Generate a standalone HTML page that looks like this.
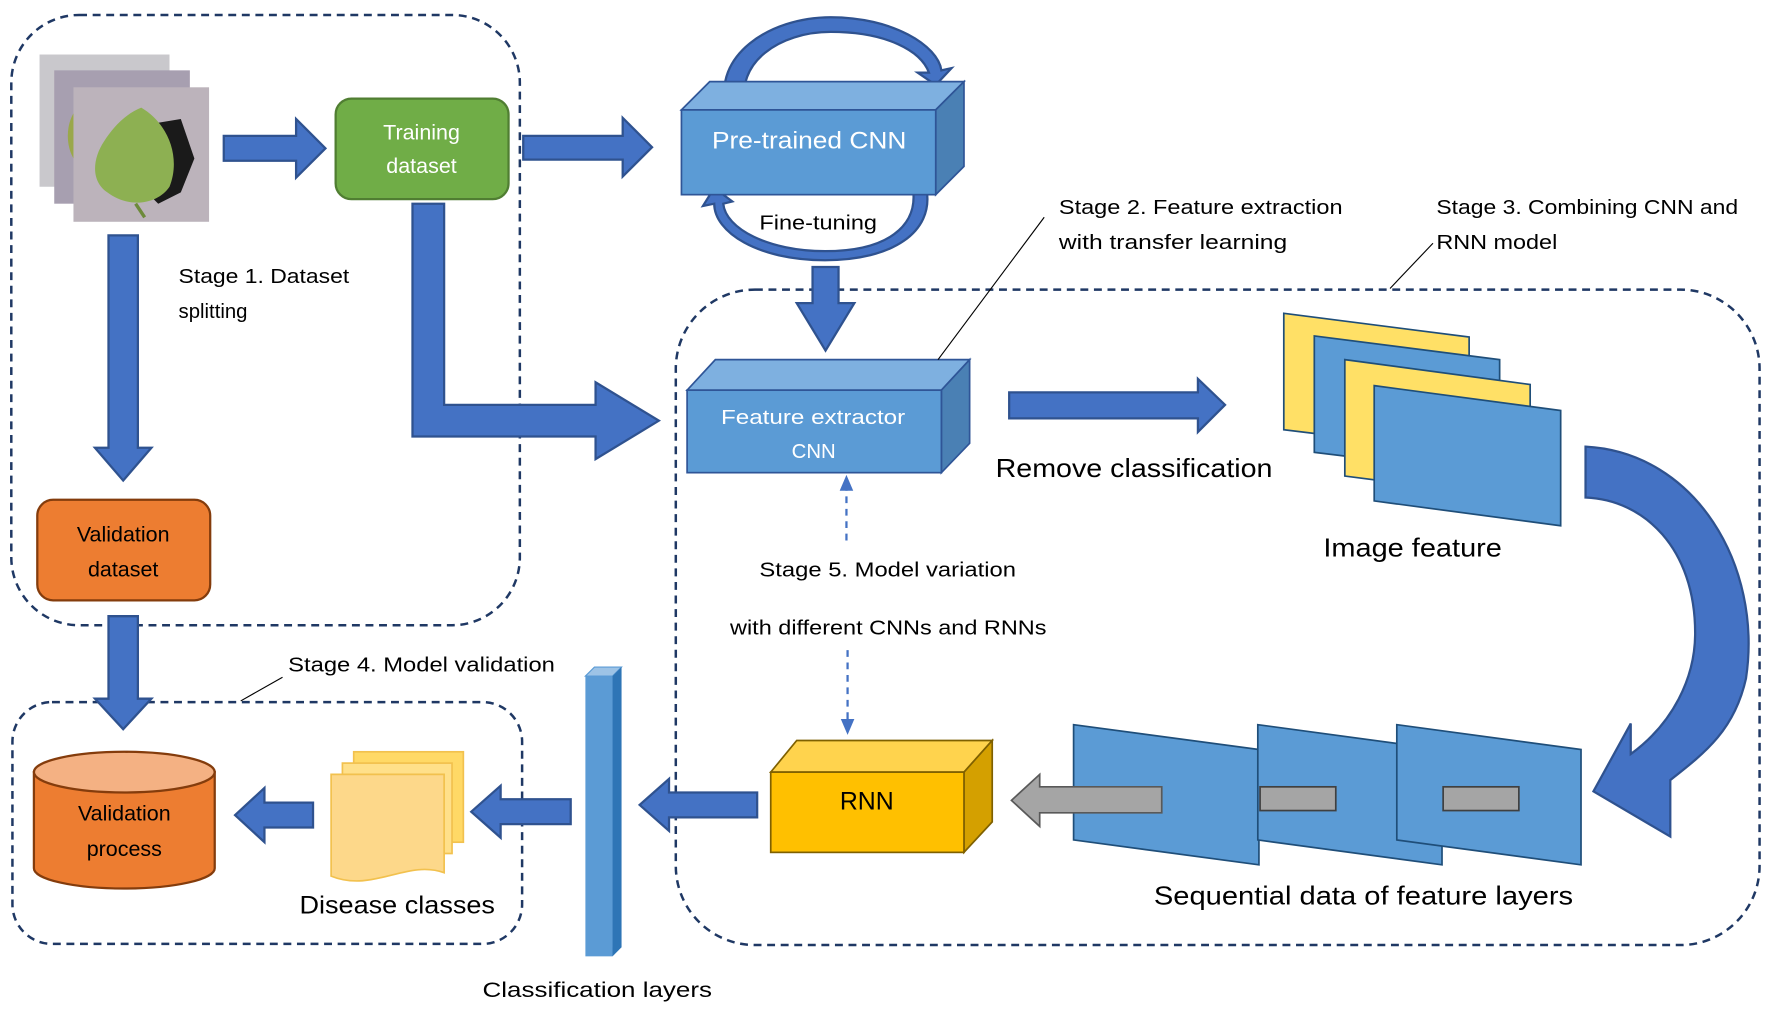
<!DOCTYPE html>
<html><head><meta charset="utf-8"><style>
html,body{margin:0;padding:0;background:#fff;}
svg{display:block;}
text{font-family:"Liberation Sans",sans-serif;}
</style></head><body>
<svg width="1772" height="1012" viewBox="0 0 1568 895" xmlns="http://www.w3.org/2000/svg">
<g fill="none" stroke="#1f3864" stroke-width="2.2" stroke-dasharray="7,5">
<rect x="10" y="13" width="450" height="540" rx="60"/>
<rect x="11" y="621" width="451" height="214" rx="35"/>
<rect x="598" y="256" width="959" height="580" rx="70"/>
</g>
<!-- leaf photos -->
<rect x="35" y="48" width="115" height="117" fill="#c9c8cc"/>
<rect x="48" y="62" width="120" height="118" fill="#a79fb0"/>
<ellipse cx="80" cy="120" rx="20" ry="30" fill="#9aa84a"/>
<rect x="65" y="77" width="120" height="119" fill="#bcb3bb"/>
<path d="M130,110 L160,105 L172,140 L160,170 L140,180 L125,165 Z" fill="#1a1a1a"/>
<path d="M125,95 C150,110 160,140 150,165 C140,180 115,185 95,170 C80,160 82,140 92,125 C100,112 112,100 125,95 Z" fill="#8db052"/>
<path d="M120,180 L128,192" stroke="#6d8a3a" stroke-width="3"/>
<g fill="#4472c4" stroke="#2f528f" stroke-width="2" stroke-linejoin="miter">
<path d="M198,120 L262,120 L262,105 L288,131 L262,157 L262,142 L198,142 Z"/>
<path d="M463,120 L551,120 L551,104 L577,130 L551,156 L551,141 L463,141 Z"/>
<path d="M719,236 L742,236 L742,268 L756,268 L730.5,310 L705,268 L719,268 Z"/>
<path d="M365,180 L393,180 L393,358 L527,358 L527,338 L583,372 L527,406 L527,386 L365,386 Z"/>
<path d="M96,208 L122,208 L122,396 L134,396 L109,425 L84,396 L96,396 Z"/>
<path d="M96,545 L122,545 L122,618 L134,618 L109,645 L84,618 L96,618 Z"/>
<path d="M893,347 L1060,347 L1060,335 L1084,358 L1060,382 L1060,370 L893,370 Z"/>
<path d="M277,710 L234,710 L234,697 L208,721 L234,745 L234,732 L277,732 Z"/>
<path d="M505,707 L443,707 L443,695 L417,718 L443,741 L443,729 L505,729 Z"/>
<path d="M670,701 L592,701 L592,689 L566,712 L592,735 L592,723 L670,723 Z"/>
<path d="M1403,395 C1500,400 1560,500 1545,600 C1535,645 1510,665 1478,690 L1478,740 L1410,700 L1443,640 L1443,667 C1480,640 1500,600 1500,560 C1500,485 1455,442 1403,440 Z"/>
<path d="M643,95 C630,50 680,15 735,15 C790,15 830,40 833,62 L842,60 L828,75 L812,64 L822,64 C815,45 785,28 735,28 C690,28 650,55 660,95 Z"/>
<path d="M820,168 C826,205 790,230 730,230 C670,230 632,205 632,180 L622,182 L632,166 L648,178 L640,180 C642,202 680,222 730,222 C785,222 812,200 808,168 Z"/>
</g>
<!-- Pre-trained CNN -->
<polygon points="603,97 628,72 853,72 828,97" fill="#7eb0e0" stroke="#2f5597" stroke-width="1.5"/>
<polygon points="828,97 853,72 853,147 828,172" fill="#4a80b4" stroke="#2f5597" stroke-width="1.5"/>
<rect x="603" y="97" width="225" height="75" fill="#5b9bd5" stroke="#2f5597" stroke-width="1.5"/>
<text x="630" y="131" font-size="21" fill="#fff" textLength="172" lengthAdjust="spacingAndGlyphs">Pre-trained CNN</text>
<text x="672" y="203" font-size="18" fill="#000" textLength="104" lengthAdjust="spacingAndGlyphs">Fine-tuning</text>
<!-- Feature extractor -->
<polygon points="608,345 633,318 858,318 833,345" fill="#7eb0e0" stroke="#2f5597" stroke-width="1.5"/>
<polygon points="833,345 858,318 858,392 833,418" fill="#4a80b4" stroke="#2f5597" stroke-width="1.5"/>
<rect x="608" y="345" width="225" height="73" fill="#5b9bd5" stroke="#2f5597" stroke-width="1.5"/>
<text x="638" y="375" font-size="18" fill="#fff" textLength="163" lengthAdjust="spacingAndGlyphs">Feature extractor</text>
<text x="720" y="405" font-size="18" fill="#fff" text-anchor="middle">CNN</text>
<!-- training / validation -->
<rect x="297" y="87" width="153" height="89" rx="14" fill="#70ad47" stroke="#507e32" stroke-width="2"/>
<text x="373" y="123" font-size="19" fill="#fff" text-anchor="middle">Training</text>
<text x="373" y="153" font-size="19" fill="#fff" text-anchor="middle">dataset</text>
<rect x="33" y="442" width="153" height="89" rx="14" fill="#ed7d31" stroke="#843c0c" stroke-width="2"/>
<text x="109" y="479" font-size="19" fill="#000" text-anchor="middle">Validation</text>
<text x="109" y="510" font-size="19" fill="#000" text-anchor="middle">dataset</text>
<!-- cylinder -->
<path d="M30,683 L30,768 A80,18 0 0 0 190,768 L190,683 Z" fill="#ed7d31" stroke="#843c0c" stroke-width="2"/>
<ellipse cx="110" cy="683" rx="80" ry="18" fill="#f4b183" stroke="#843c0c" stroke-width="2"/>
<text x="110" y="726" font-size="19" fill="#000" text-anchor="middle">Validation</text>
<text x="110" y="757" font-size="19" fill="#000" text-anchor="middle">process</text>
<!-- docs -->
<g stroke="#f2c14e" stroke-width="1.5">
<rect x="313" y="665" width="97" height="80" fill="#ffd966"/>
<rect x="303" y="675" width="97" height="80" fill="#ffe08a"/>
<path d="M293,685 L393,685 L393,772 C360,760 330,790 293,775 Z" fill="#fdd88a"/>
</g>
<text x="265" y="808" font-size="22" fill="#000" textLength="173" lengthAdjust="spacingAndGlyphs">Disease classes</text>
<!-- classification bar -->
<polygon points="518,598 526,590 550,590 542,598" fill="#9dc3e6" stroke="#5b9bd5"/>
<polygon points="542,598 550,590 550,838 542,846" fill="#2e75b6"/>
<rect x="518" y="598" width="24" height="248" fill="#5b9bd5"/>
<text x="427" y="882" font-size="19" fill="#000" textLength="203" lengthAdjust="spacingAndGlyphs">Classification layers</text>
<!-- RNN -->
<polygon points="682,683 705,655 878,655 853,683" fill="#ffd34d" stroke="#7f6000" stroke-width="1.5"/>
<polygon points="853,683 878,655 878,727 853,754" fill="#d4a000" stroke="#7f6000" stroke-width="1.5"/>
<rect x="682" y="683" width="171" height="71" fill="#ffc000" stroke="#7f6000" stroke-width="1.5"/>
<text x="767" y="716" font-size="22" fill="#000" text-anchor="middle">RNN</text>
<!-- sequential panels -->
<g fill="#5b9bd5" stroke="#1f4e79" stroke-width="1.5">
<polygon points="950,641 1114,663 1114,765 950,743"/>
<polygon points="1113,641 1276,663 1276,765 1113,743"/>
<polygon points="1236,641 1399,663 1399,765 1236,743"/>
</g>
<path d="M1028,696 L920,696 L920,685 L895,708 L920,731 L920,719 L1028,719 Z" fill="#a5a5a5" stroke="#595959" stroke-width="1.5"/>
<g fill="#a5a5a5" stroke="#404040" stroke-width="1.5">
<rect x="1115" y="696" width="67" height="21"/>
<rect x="1277" y="696" width="67" height="21"/>
</g>
<text x="1021" y="800" font-size="23" fill="#000" textLength="371" lengthAdjust="spacingAndGlyphs">Sequential data of feature layers</text>
<!-- image feature stack -->
<g stroke="#1f4e79" stroke-width="1.5">
<polygon points="1136,277 1300,298 1300,400 1136,380" fill="#ffe066"/>
<polygon points="1163,297 1327,318 1327,420 1163,400" fill="#5b9bd5"/>
<polygon points="1190,318 1354,340 1354,442 1190,421" fill="#ffe066"/>
<polygon points="1216,341 1381,363 1381,465 1216,443" fill="#5b9bd5"/>
</g>
<text x="1171" y="492" font-size="23" fill="#000" textLength="158" lengthAdjust="spacingAndGlyphs">Image feature</text>
<text x="881" y="422" font-size="23" fill="#000" textLength="245" lengthAdjust="spacingAndGlyphs">Remove classification</text>
<!-- labels -->
<g font-size="18" fill="#000" lengthAdjust="spacingAndGlyphs">
<text x="158" y="250" textLength="151" lengthAdjust="spacingAndGlyphs">Stage 1. Dataset</text>
<text x="158" y="281">splitting</text>
<text x="937" y="189" textLength="251" lengthAdjust="spacingAndGlyphs">Stage 2. Feature extraction</text>
<text x="937" y="220" textLength="202" lengthAdjust="spacingAndGlyphs">with transfer learning</text>
<text x="1271" y="189" textLength="267" lengthAdjust="spacingAndGlyphs">Stage 3. Combining CNN and</text>
<text x="1271" y="220" textLength="107" lengthAdjust="spacingAndGlyphs">RNN model</text>
<text x="255" y="594" textLength="236" lengthAdjust="spacingAndGlyphs">Stage 4. Model validation</text>
<text x="672" y="510" textLength="227" lengthAdjust="spacingAndGlyphs">Stage 5. Model variation</text>
<text x="646" y="561" textLength="280" lengthAdjust="spacingAndGlyphs">with different CNNs and RNNs</text>
</g>
<g stroke="#000" stroke-width="1">
<line x1="924" y1="192" x2="830" y2="318"/>
<line x1="1268" y1="215" x2="1230" y2="255"/>
<line x1="250" y1="599" x2="213" y2="620"/>
</g>
<g stroke="#4472c4" stroke-width="2" stroke-dasharray="6,5" fill="none">
<line x1="749" y1="478" x2="749" y2="432"/>
<line x1="750" y1="575" x2="750" y2="638"/>
</g>
<polygon points="749,420 743,434 755,434" fill="#4472c4"/>
<polygon points="750,650 744,636 756,636" fill="#4472c4"/>
</svg>
</body></html>
